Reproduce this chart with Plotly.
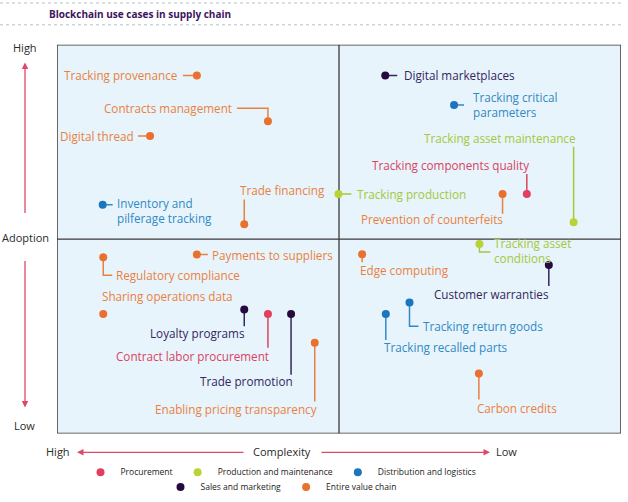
import plotly.graph_objects as go

# ---------------- data ----------------
names = [
    "Tracking provenance", "Contracts management", "Digital thread", "Trade financing",
    "Inventory and<br>pilferage tracking", "Digital marketplaces", "Tracking critical<br>parameters",
    "Tracking asset maintenance", "Tracking components quality", "Tracking production",
    "Prevention of counterfeits", "Payments to suppliers", "Regulatory compliance",
    "Sharing operations data", "Loyalty programs", "Contract labor procurement",
    "Trade promotion", "Enabling pricing transparency", "Tracking asset<br>conditions",
    "Edge computing", "Customer warranties", "Tracking return goods",
    "Tracking recalled parts", "Carbon credits",
]
# position along complexity axis: 0 = high complexity (left), 100 = low complexity (right)
complexity = [24.8, 37.4, 16.5, 33.2, 8.1, 58.2, 70.4, 91.6, 83.3, 49.9, 79.0, 24.8,
              8.2, 8.2, 33.2, 37.4, 41.5, 45.7, 74.9, 54.1, 87.2, 62.5, 58.3, 74.8]
# position along adoption axis: 0 = low, 100 = high
adoption = [92.1, 80.3, 76.5, 53.8, 58.8, 92.1, 84.5, 54.3, 61.6, 61.6, 61.6, 46.0,
            45.3, 30.7, 31.9, 30.7, 30.7, 23.3, 48.7, 46.1, 43.3, 33.7, 30.7, 15.4]
category = ["Entire value chain", "Entire value chain", "Entire value chain", "Entire value chain",
            "Distribution and logistics", "Sales and marketing", "Distribution and logistics",
            "Production and maintenance", "Procurement", "Production and maintenance",
            "Entire value chain", "Entire value chain", "Entire value chain",
            "Entire value chain", "Sales and marketing", "Procurement",
            "Sales and marketing", "Entire value chain", "Production and maintenance",
            "Entire value chain", "Sales and marketing", "Distribution and logistics",
            "Distribution and logistics", "Entire value chain"]

categories = ["Procurement", "Production and maintenance", "Distribution and logistics",
              "Sales and marketing", "Entire value chain"]

# ---------------- styles ----------------
W, H = 628, 502
BOX_L, BOX_R, BOX_T, BOX_B = 57, 621, 45, 436
SX = (BOX_R - BOX_L) / 100.0
SY = (BOX_B - BOX_T) / 100.0
FONT = "Open Sans"

dot_colors = {
    "Procurement": "#E23F5E",
    "Production and maintenance": "#B7D335",
    "Distribution and logistics": "#1B76BD",
    "Sales and marketing": "#26093F",
    "Entire value chain": "#EA7030",
}
text_colors = {
    "Procurement": "#D9435F",
    "Production and maintenance": "#A4C83C",
    "Distribution and logistics": "#2F8AC6",
    "Sales and marketing": "#33275E",
    "Entire value chain": "#E8813F",
}

# label placement (pixel offsets from the dot): connector path, label offset, anchor
placement = [
    ([(-14, 0)], -18, 0, "right"),
    ([(0, -13), (-31, -13)], -34, -13, "right"),
    ([(-12, 0)], -14, 0, "right"),
    ([(0, -25)], -6, -34, "left"),
    ([(10, 0)], 12, 6, "left"),
    ([(12, 0)], 17, 0, "left"),
    ([(10, 0)], 17, 0, "left"),
    ([(0, -76)], 4, -84, "right"),
    ([(0, -20)], 4, -29, "right"),
    ([(13, 0)], 17, 0, "left"),
    ([(0, 20)], 2, 25, "right"),
    ([(11, 0)], 13, 0, "left"),
    ([(0, 18), (9, 18)], 11, 18, "left"),
    ([], -3, -18, "left"),
    ([(0, 17)], 3, 24, "right"),
    ([(0, 34)], 3, 42, "right"),
    ([(0, 61)], 4, 67, "right"),
    ([(0, 59)], 4, 66, "right"),
    ([(0, 8), (11, 8)], 13, 6, "left"),
    ([(0, 8)], -4, 16, "left"),
    ([(0, 21)], 2, 29, "right"),
    ([(0, 24), (9, 24)], 11, 24, "left"),
    ([(0, 26)], -4, 33, "left"),
    ([(0, 26)], -4, 34, "left"),
]

fig = go.Figure()

# connectors
for n, cx, cy, cat, (path, dx, dy, anc) in zip(names, complexity, adoption, category, placement):
    if not path:
        continue
    xs = [cx] + [cx + px / SX for px, py in path]
    ys = [cy] + [cy - py / SY for px, py in path]
    fig.add_trace(go.Scatter(x=xs, y=ys, mode="lines", showlegend=False, hoverinfo="skip",
                             line=dict(color=text_colors[cat], width=1.5)))

# dots per category
for i, cat in enumerate(categories):
    idx = [k for k, c in enumerate(category) if c == cat]
    fig.add_trace(go.Scatter(
        x=[complexity[k] for k in idx], y=[adoption[k] for k in idx],
        mode="markers", name=cat, legend="legend" if i < 3 else "legend2",
        text=[names[k] for k in idx], hoverinfo="text",
        marker=dict(color=dot_colors[cat], size=8),
    ))

annotations = []
for n, cx, cy, cat, (path, dx, dy, anc) in zip(names, complexity, adoption, category, placement):
    annotations.append(dict(x=cx, y=cy, xref="x", yref="y", text=n, showarrow=False,
                            xshift=dx, yshift=-dy, xanchor=anc, yanchor="middle", align=anc,
                            font=dict(family=FONT, size=11.7, color=text_colors[cat])))

def px_(x): return x / W
def py_(y): return 1 - y / H

axis_font = dict(family=FONT, size=11, color="#2A2A2A")
arrow_col = "#E0486A"
# title
annotations.append(dict(x=px_(47), y=py_(14), xref="paper", yref="paper", xanchor="left",
                        yanchor="middle", showarrow=False,
                        text="<b>Blockchain use cases in supply chain</b>",
                        font=dict(family=FONT, size=10, color="#3B1560")))
# axis captions
for t, x, y in [("High", 25, 48), ("Adoption", 25, 239), ("Low", 24, 428),
                ("High", 58, 454), ("Complexity", 282, 454), ("Low", 506, 454)]:
    annotations.append(dict(x=px_(x), y=py_(y), xref="paper", yref="paper", text=t,
                            showarrow=False, xanchor="center", yanchor="middle", font=axis_font))
for (tx, ty, ax, ay) in [(25, 63, 0, 152), (25, 410, 0, -148), (77, 455, 168, 0), (490, 455, -170, 0)]:
    annotations.append(dict(x=px_(tx), y=py_(ty), xref="paper", yref="paper", text="",
                            showarrow=True, ax=ax, ay=ay, arrowhead=2, arrowsize=1,
                            arrowwidth=1.3, arrowcolor=arrow_col, standoff=0))

shapes = [
    dict(type="rect", xref="x", yref="y", x0=0, x1=100, y0=0, y1=100,
         line=dict(color="#3A3A3A", width=1.5), layer="above"),
    dict(type="line", xref="x", yref="y", x0=50, x1=50, y0=0, y1=100,
         line=dict(color="#3A3A3A", width=1.3), layer="below"),
    dict(type="line", xref="x", yref="y", x0=0, x1=100, y0=50, y1=50,
         line=dict(color="#3A3A3A", width=1.3), layer="below"),
    dict(type="line", xref="paper", yref="paper", x0=0, x1=px_(622), y0=py_(3), y1=py_(3),
         line=dict(color="#C9D6DE", width=1.5, dash="dot")),
    dict(type="line", xref="paper", yref="paper", x0=0, x1=px_(622), y0=py_(25), y1=py_(25),
         line=dict(color="#C9D6DE", width=1.5, dash="dot")),
]

legend_style = dict(orientation="h", xanchor="center", yanchor="middle", x=px_(281),
                    font=dict(family=FONT, size=8.5, color="#222222"),
                    bgcolor="rgba(0,0,0,0)", itemwidth=30, tracegroupgap=0)

fig.update_layout(
    width=W, height=H, margin=dict(l=0, r=0, t=0, b=0),
    paper_bgcolor="white", plot_bgcolor="#E8F4FB",
    xaxis=dict(domain=[BOX_L / W, BOX_R / W], range=[0, 100], showgrid=False, zeroline=False,
               showticklabels=False, ticks="", fixedrange=True),
    yaxis=dict(domain=[1 - BOX_B / H, 1 - BOX_T / H], range=[0, 100], showgrid=False,
               zeroline=False, showticklabels=False, ticks="", fixedrange=True),
    annotations=annotations, shapes=shapes,
    legend=dict(legend_style, y=py_(475)),
    legend2=dict(legend_style, y=py_(490)),
    showlegend=True,
)

fig.write_html("out.html", config={"displayModeBar": False},
               post_script="document.body.style.margin='0px';")
